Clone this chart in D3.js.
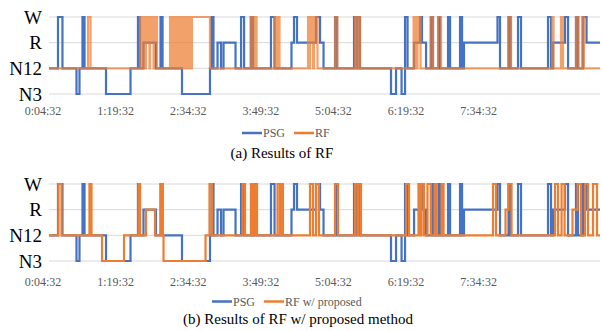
<!DOCTYPE html>
<html>
<head>
<meta charset="utf-8">
<script src="https://cdn.jsdelivr.net/npm/d3@7"></script>
<style>
  body { margin: 0; background: #fff; }
  svg { display: block; font-family: "Liberation Serif", "Times New Roman", serif; }
</style>
</head>
<body>
<svg id="chart" width="602" height="331"></svg>
<script>
// sleep stages, bottom to top
const stages = ["N3", "N12", "R", "W"];
// minutes after 0:04:32
const tickTimes = [0, 75, 150, 225, 300, 375, 450];
const tickLabels = ["0:04:32", "1:19:32", "2:34:32", "3:49:32", "5:04:32", "6:19:32", "7:34:32"];
const endTime = 569.2;

// ground truth (PSG), change points
const psgTime = [0, 9.3, 13.9, 28.4, 31.5, 34.6, 36.7, 58.9, 84.2, 91.9, 94.0, 97.6, 110.5, 115.2, 117.3,
  137.4, 166.3, 167.9, 169.9, 174.1, 177.7, 180.3, 192.7, 198.4, 201.5, 208.7, 210.8, 229.3, 233.0,
  250.5, 253.1, 256.2, 275.8, 280.0, 283.6, 295.5, 297.5, 315.1, 317.7, 318.7, 321.3, 353.3, 358.5,
  364.2, 367.8, 370.4, 377.1, 383.3, 385.3, 389.5, 394.6, 396.7, 402.4, 403.9, 412.2, 414.3, 424.6,
  426.7, 428.7, 463.3, 465.9, 474.7, 476.8, 484.5, 487.6, 515.5, 518.6, 520.7, 533.1, 536.2, 544.4,
  546.5, 551.7, 555.3];
const psgStage = ["N12", "W", "N12", "N3", "N12", "W", "N12", "N3", "N12", "W", "N12", "R", "N12", "W", "N12",
  "N3", "N12", "W", "N12", "R", "N12", "R", "N12", "W", "N12", "W", "N12", "W", "N12",
  "R", "W", "R", "W", "R", "N12", "W", "N12", "W", "N12", "W", "N12", "N3", "N12",
  "N3", "W", "N12", "R", "W", "R", "N12", "W", "N12", "W", "N12", "W", "N12", "W",
  "N12", "R", "W", "N12", "W", "N12", "W", "N12", "W", "N12", "R", "W", "N12", "W",
  "N12", "W", "R"];

// RF prediction
const rfTime = [0, 40.3, 42.9,
  94.0, 95.0, 96.1, 97.1, 98.1, 99.7, 100.2, 101.8, 102.3, 103.8, 104.3, 105.4, 106.4, 108.0, 108.5, 109.5, 110.5, 111.6,
  125.0, 126.0, 127.1, 128.6, 129.1, 131.2, 132.2, 133.3, 134.3, 135.9, 136.4, 138.4, 139.5, 140.5, 141.5, 143.1,
  143.6, 144.6, 145.7, 146.7, 147.7, 166.3,
  208.2, 209.7, 210.8, 212.3, 212.8, 214.4, 233.0, 234.5, 236.1, 238.1,
  267.6, 268.6, 269.6, 270.7, 271.7, 272.7, 273.8, 275.3, 275.8, 277.4,
  295.5, 298.0, 316.1, 318.2, 319.2, 321.3,
  376.6, 377.6, 378.6, 380.2, 380.7, 382.2, 382.8, 383.8,
  394.1, 396.7, 401.9, 405.0, 474.7, 477.3, 519.6, 521.2, 528.9, 531.0, 544.4, 547.0, 550.6, 552.7];
const rfStage = ["N12", "W", "N12",
  "W", "N12", "W", "N12", "W", "N12", "W", "R", "W", "N12", "W", "R", "W", "N12", "W", "R", "W", "N12",
  "W", "N12", "W", "N12", "W", "N12", "W", "N12", "W", "N12", "W", "N12", "W", "N12", "W", "N12",
  "W", "N12", "W", "N12", "W", "N12",
  "W", "N12", "W", "N12", "W", "N12", "W", "N12", "W", "N12",
  "W", "N12", "W", "R", "W", "N12", "W", "R", "W", "N12",
  "W", "N12", "W", "N12", "W", "N12",
  "W", "N12", "W", "N12", "W", "R", "W", "N12",
  "W", "N12", "W", "N12", "W", "N12", "W", "N12", "W", "N12", "W", "N12", "W", "N12"];

// RF with proposed method
const propTime = [0, 9.8, 12.9, 41.8, 43.9, 54.8, 77.5, 92.5, 94.0, 100.2, 109.5, 115.7, 117.3, 118.3, 161.7,
  165.8, 168.4, 199.9, 202.5, 208.7, 210.8, 212.8, 214.9, 236.1, 238.6, 239.7, 241.7,
  269.6, 272.7, 275.8, 278.9, 295.5, 298.6, 316.1, 318.7, 319.7, 322.3, 368.8, 371.9,
  381.7, 383.3, 384.8, 387.4, 391.0, 394.6, 398.3, 400.3, 405.5, 407.6, 458.7, 461.8,
  471.6, 474.7, 477.8, 522.7, 525.8, 529.5, 532.6, 540.8, 546.0, 549.6, 553.7, 556.8, 562.0, 566.1];
const propStage = ["N12", "W", "N12", "W", "N12", "N3", "N12", "W", "N12", "R", "N12", "W", "N12", "N3", "N12",
  "W", "N12", "W", "N12", "W", "N12", "W", "N12", "W", "N12", "W", "N12",
  "W", "N12", "W", "N12", "W", "N12", "W", "N12", "W", "N12", "W", "N12",
  "W", "N12", "W", "N12", "W", "N12", "W", "N12", "W", "N12", "W", "N12",
  "R", "W", "N12", "W", "N12", "W", "N12", "R", "W", "N12", "W", "N12", "W", "N12"];

const blue = "#4472C4", orange = "#ED7D31";
const serif = '"Liberation Serif", "Times New Roman", serif';

function series(times, st) {
  const pts = times.map((t, i) => ({ t: t, s: st[i] }));
  pts.push({ t: endTime, s: st[st.length - 1] });
  return pts;
}

const svg = d3.select("#chart");
const x = d3.scaleLinear().domain([0, endTime]).range([49, 600]);

const panels = [
  { top: 17, bottom: 94, tickY: 110.5, legY: 133, capY: 153,
    other: series(rfTime, rfStage), otherName: "RF", otherOpacity: 0.72,
    legX: 242, caption: "(a) Results of RF", capX: 282 },
  { top: 184, bottom: 261, tickY: 282, legY: 301.5, capY: 318.5,
    other: series(propTime, propStage), otherName: "RF w/ proposed", otherOpacity: 1,
    legX: 212, caption: "(b) Results of RF w/ proposed method", capX: 298 }
];

panels.forEach(p => {
  const y = d3.scalePoint().domain(stages).range([p.bottom, p.top]);
  const g = svg.append("g");

  // gridlines
  g.selectAll("line.grid").data(stages).enter().append("line")
    .attr("x1", x.range()[0]).attr("x2", x.range()[1])
    .attr("y1", d => y(d)).attr("y2", d => y(d))
    .attr("stroke", "#d9d9d9").attr("stroke-width", 1);

  // stage labels
  g.selectAll("text.stage").data(stages).enter().append("text")
    .attr("x", 42).attr("y", d => y(d)).attr("dy", "0.35em")
    .attr("text-anchor", "end").attr("font-size", 19).attr("fill", "#000")
    .text(d => d);

  // time axis (labels only)
  const ax = g.append("g").attr("transform", "translate(0," + p.tickY + ")")
    .call(d3.axisBottom(x).tickValues(tickTimes).tickSize(0).tickPadding(0)
      .tickFormat((d, i) => tickLabels[i]));
  ax.attr("font-family", null).attr("font-size", null);
  ax.select(".domain").remove();
  ax.selectAll("text").style("font-family", serif).attr("font-size", 12)
    .attr("fill", "#595959").attr("dy", "0.35em").attr("dx", -6.5);

  const line = d3.line().x(d => x(d.t)).y(d => y(d.s)).curve(d3.curveStepAfter);

  g.append("path").datum(series(psgTime, psgStage))
    .attr("fill", "none").attr("stroke", blue).attr("stroke-width", 2.2)
    .attr("stroke-linejoin", "miter").attr("d", line);

  g.append("path").datum(p.other)
    .attr("fill", "none").attr("stroke", orange).attr("stroke-width", 2.2)
    .attr("stroke-opacity", p.otherOpacity).attr("d", line);

  // legend
  const lg = g.append("g").attr("transform", "translate(" + p.legX + "," + p.legY + ")");
  const items = [{ name: "PSG", color: blue }, { name: p.otherName, color: orange }];
  let off = 0;
  items.forEach(it => {
    lg.append("line").attr("x1", off).attr("x2", off + 20).attr("y1", 0).attr("y2", 0)
      .attr("stroke", it.color).attr("stroke-width", 2.5);
    const t = lg.append("text").attr("x", off + 21).attr("y", 0).attr("dy", "0.35em")
      .attr("font-size", 12).attr("fill", "#595959").text(it.name);
    off += 21 + t.node().getComputedTextLength() + 9;
  });

  g.append("text").attr("x", p.capX).attr("y", p.capY).attr("dy", "0.35em")
    .attr("text-anchor", "middle").attr("font-size", 15).attr("fill", "#000")
    .text(p.caption);
});
</script>
</body>
</html>
